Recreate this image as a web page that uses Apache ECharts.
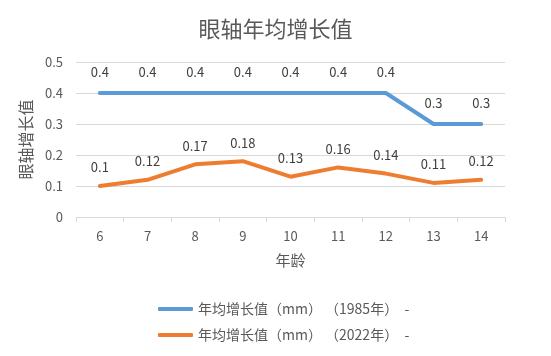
<!DOCTYPE html>
<html><head><meta charset="utf-8">
<script src="https://cdn.jsdelivr.net/npm/echarts@6/dist/echarts.min.js"></script>
<style>html,body{margin:0;padding:0;background:#fff}#c{width:551px;height:356px}</style>
</head><body><div id="c"></div>
<script>
const categories = ['6','7','8','9','10','11','12','13','14'];
const series1985 = [0.4,0.4,0.4,0.4,0.4,0.4,0.4,0.3,0.3];
const series2022 = [0.1,0.12,0.17,0.18,0.13,0.16,0.14,0.11,0.12];
const seriesNames = ['年均增长值（mm） （1985年）  -','年均增长值（mm） （2022年）  -'];
const yTicks = [0,0.1,0.2,0.3,0.4,0.5];

const font = '"Microsoft YaHei","Noto Sans CJK SC",sans-serif';
const chart = echarts.init(document.getElementById('c'), null, {renderer:'canvas'});
chart.setOption({
  animation:false,
  title:{text:'眼轴年均增长值', left:'center', top:13,
    textStyle:{fontSize:22, fontWeight:'normal', color:'#595959', fontFamily:font}},
  grid:{left:76, right:46, top:62, bottom:139, containLabel:false},
  legend:{orient:'vertical', left:153, top:297, itemWidth:35, itemHeight:4, itemGap:12,
    icon:'roundRect',
    textStyle:{fontSize:14, color:'#595959', fontFamily:font},
    data:seriesNames},
  xAxis:{type:'category', data:categories, boundaryGap:true,
    name:'年龄', nameLocation:'middle', nameGap:36,
    nameTextStyle:{fontSize:15, color:'#595959', fontFamily:font},
    axisLine:{lineStyle:{color:'#d9d9d9'}},
    axisTick:{show:true, length:5, lineStyle:{color:'#d9d9d9'}},
    axisLabel:{fontSize:13, color:'#595959', margin:13, fontFamily:font}},
  yAxis:{type:'value', min:yTicks[0], max:yTicks[yTicks.length-1], interval:0.1,
    name:'眼轴增长值', nameLocation:'middle', nameGap:32, nameRotate:90,
    nameTextStyle:{fontSize:16, color:'#595959', fontFamily:font},
    axisLine:{show:false}, axisTick:{show:false},
    axisLabel:{fontSize:13, color:'#595959', margin:13, fontFamily:font,
      formatter:v=>String(+v.toFixed(1))},
    splitLine:{lineStyle:{color:'#d9d9d9'}}},
  series:[
    {name:seriesNames[0], type:'line', data:series1985, symbol:'circle', symbolSize:0, showSymbol:true,
      lineStyle:{width:4, color:'#5b9bd5', cap:'round'}, itemStyle:{color:'#5b9bd5'},
      label:{show:true, position:'top', distance:14, fontSize:13, color:'#404040', fontFamily:font}},
    {name:seriesNames[1], type:'line', data:series2022, symbol:'circle', symbolSize:0, showSymbol:true,
      lineStyle:{width:4, color:'#ed7d31', cap:'round'}, itemStyle:{color:'#ed7d31'},
      label:{show:true, position:'top', distance:12, fontSize:13, color:'#404040', fontFamily:font}}
  ]
});
</script></body></html>
